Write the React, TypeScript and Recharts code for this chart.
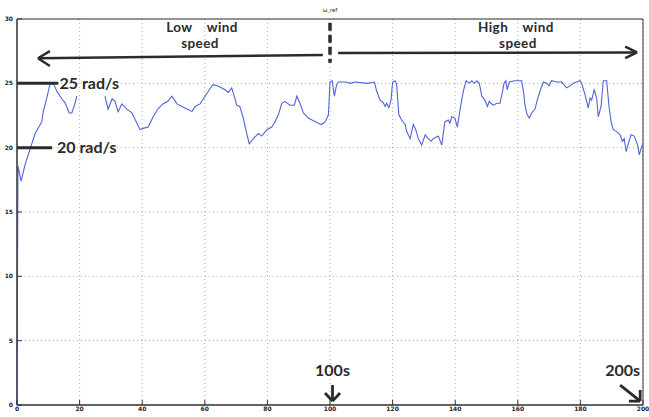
import React from "react";
import {
  LineChart,
  Line,
  XAxis,
  YAxis,
  CartesianGrid,
  ReferenceLine,
  ReferenceArea,
  ReferenceDot,
} from "recharts";

// time (s)
const times: number[] = [
  0, 0.3, 1.3, 2.6, 4.2, 5.8, 7.9, 8.4, 9.5, 10.5, 11.6, 12.7, 14.3, 15.3, 16.7, 17.5, 18.5, 19.1, 23,
  28.1, 29.1, 30.4, 31.3, 32.3, 33.5, 35.1, 36.7, 37.7, 39.3, 40.3, 41.9, 43.5, 45.0, 46.6, 48.2, 49.5,
  51.1, 52.7, 54.3, 55.9, 56.9, 58.5, 60.1, 61.7, 62.6, 64.2, 66.5, 67.5, 68.6, 69.4, 70.2, 71.2, 72.3,
  73.4, 74.2, 75.5, 77.1, 78.2, 79.8, 81.4, 82.4, 83.5, 84.6, 85.6, 87.2, 88.6, 89.4, 90.4, 91.5, 93.1,
  94.7, 96.3, 97.3, 98.4, 99.5, 100.0, 100.7, 101.4, 102.1, 102.7, 105, 106.5, 108, 112, 114.2, 114.9,
  116, 117, 117.6, 118.1, 118.8, 119.5, 120, 120.8, 121.3, 122, 122.9, 124, 124.5, 125.6, 126.6, 127.4,
  128.2, 129.3, 130.4, 131.4, 132.3, 133, 134.6, 135.7, 136.7, 137.8, 138.3, 138.9, 139.9, 140.7, 141.5,
  142.6, 143.5, 144.5, 145.3, 146.1, 146.9, 147.7, 148.5, 149.5, 150.3, 150.9, 151.4, 152.2, 153.3, 154.3,
  154.9, 155.6, 156.2, 156.6, 157.3, 159, 161.2, 161.8, 162.3, 163, 163.7, 164.4, 165.5, 166.2, 167.1,
  168.2, 169.2, 170, 170.8, 172.4, 174, 175.6, 176.7, 177.7, 178.8, 179.9, 180.4, 181.5, 182.5, 183.1,
  183.6, 184.4, 185.2, 185.7, 186.6, 187.3, 188.4, 189.1, 189.8, 190.5, 191.6, 192.7, 193.4, 194, 194.6,
  195.3, 196.2, 197.2, 198.3, 198.8, 199.6, 200,
];

// w_ref (rad/s)
const wRef: (number | null)[] = [
  0, 18.6, 17.4, 18.7, 19.9, 21.1, 22.0, 22.8, 23.85, 24.9, 25.0, 24.4, 23.8, 23.5, 22.7, 22.7, 23.4, 24.0, null,
  24.0, 23.0, 23.8, 23.6, 22.8, 23.4, 23.0, 22.7, 22.2, 21.4, 21.5, 21.6, 22.4, 23.0, 23.4, 23.6, 24.0,
  23.4, 23.2, 23.0, 22.8, 23.2, 23.4, 24.0, 24.6, 24.9, 24.8, 24.5, 24.3, 24.65, 24.0, 23.3, 23.2, 22.3,
  21.1, 20.3, 20.7, 21.1, 20.9, 21.4, 21.6, 22.0, 22.55, 23.45, 23.6, 23.3, 23.3, 24.0, 23.45, 22.7, 22.3,
  22.1, 21.9, 21.8, 22.0, 22.55, 25.1, 25.2, 24.0, 24.9, 25.1, 25.1, 25.0, 25.1, 25.0, 25.1, 24.4,
  23.7, 23.5, 23.2, 23.45, 23.1, 23.7, 25.1, 25.2, 24.9, 22.55, 22.15, 21.8, 21.25, 20.7, 21.8, 21.4,
  20.7, 20.2, 21.0, 20.7, 20.5, 20.7, 20.9, 20.2, 22.0, 22.15, 21.9, 22.4, 22.3, 21.6, 22.9,
  24.4, 25.2, 25.0, 25.2, 25.0, 25.2, 25.0, 24.0, 23.7, 23.2, 23.6, 23.45, 23.3, 23.45, 23.45,
  24.1, 25.0, 25.2, 24.5, 25.1, 25.2, 25.2, 24.4, 23.3, 22.55, 22.3, 22.7, 23.0, 23.7, 24.4,
  25.1, 25.0, 24.8, 25.2, 25.1, 25.1, 24.65, 24.8, 25.0, 25.1, 25.2, 25.0, 24.1, 23.1, 23.85,
  23.7, 24.5, 23.85, 22.4, 23.2, 25.2, 25.2, 23.3, 22.0, 21.4, 21.25, 21.0, 20.5, 20.7, 19.7,
  20.3, 21.0, 20.9, 20.2, 19.45, 20.1, 20.3,
];

const xTicks: number[] = [0, 20, 40, 60, 80, 100, 120, 140, 160, 180, 200];
const yTicks: number[] = [0, 5, 10, 15, 20, 25, 30];

const chartTitle = "ω_ref";
const lowLabel: string[] = ["Low    wind", "speed"];
const highLabel: string[] = ["High    wind", "speed"];
const levelLabels: string[] = ["25 rad/s", "20 rad/s"];
const timeLabels: string[] = ["100s", "200s"];

const data = times.map((t, i) => ({ t, w: wRef[i] }));

const ANN = "#2b2b2b";
const annFont = "Lato, 'Open Sans', sans-serif";

const makeText =
  (text: string, anchor: "start" | "middle" | "end", size: number, dy = 0, weight = 700) =>
  (props: any) =>
    (
      <text
        x={props.cx}
        y={props.cy}
        dy={dy}
        textAnchor={anchor}
        fontFamily={annFont}
        fontWeight={weight}
        fontSize={size}
        fill={ANN}
        style={{ whiteSpace: "pre" }}
      >
        {text}
      </text>
    );

const makeTwoLine =
  (lines: string[], size: number, lineGap: number, secondDx: number) =>
  (props: any) =>
    (
      <text
        textAnchor="middle"
        fontFamily={annFont}
        fontWeight={700}
        fontSize={size}
        fill={ANN}
        letterSpacing={0.4}
        style={{ whiteSpace: "pre" }}
      >
        <tspan x={props.cx} y={props.cy}>
          {lines[0]}
        </tspan>
        <tspan x={props.cx + secondDx} y={props.cy + lineGap}>
          {lines[1]}
        </tspan>
      </text>
    );

const seg = (x1: number, y1: number, x2: number, y2: number, key: string, w = 2.5, dash?: string) => (
  <ReferenceLine
    key={key}
    segment={[
      { x: x1, y: y1 },
      { x: x2, y: y2 },
    ]}
    stroke={ANN}
    strokeWidth={w}
    strokeDasharray={dash}
    ifOverflow="visible"
  />
);

export default function App() {
  return (
    <div style={{ position: "absolute", left: 0, top: 0, background: "#fff" }}>
      <LineChart
        width={649}
        height={417}
        data={data}
        margin={{ top: 19, right: 6, bottom: 0, left: 0 }}
      >
        <CartesianGrid stroke="#9a9a9a" strokeDasharray="1 3" strokeWidth={0.8} />
        <XAxis
          dataKey="t"
          type="number"
          domain={[0, 200]}
          ticks={xTicks}
          height={12}
          tickSize={-5}
          tickMargin={7}
          stroke="#333"
          tick={{ fontSize: 6, fontWeight: 700, fill: "#222", fontFamily: "DejaVu Sans" }}
        />
        <YAxis
          type="number"
          domain={[0, 30]}
          ticks={yTicks}
          width={17}
          tickSize={-5}
          tickMargin={9}
          stroke="#333"
          tick={{ fontSize: 6, fontWeight: 700, fill: "#222", fontFamily: "DejaVu Sans" }}
        />
        <ReferenceArea x1={0} x2={200} y1={0} y2={30} fill="none" stroke="#333" strokeWidth={1} />
        <Line
          type="linear"
          dataKey="w"
          stroke="#5064d6"
          strokeWidth={1.1}
          dot={false}
          isAnimationActive={false}
          connectNulls={false}
        />
        {/* title */}
        <ReferenceDot x={100} y={30} r={0} ifOverflow="visible" shape={makeText(chartTitle, "middle", 6, -7, 400)} />
        {/* region arrows */}
        {seg(6.7, 26.95, 97.7, 27.2, "la")}
        {seg(6.7, 26.95, 10.5, 27.5, "la1")}
        {seg(6.7, 26.95, 10.5, 26.35, "la2")}
        {seg(102.6, 27.35, 198.1, 27.4, "ra")}
        {seg(198.1, 27.4, 194.3, 27.85, "ra1")}
        {seg(198.1, 27.4, 194.3, 26.95, "ra2")}
        {seg(100, 29.7, 100, 26.6, "div", 3.5, "8 4")}
        <ReferenceDot x={59.1} y={29.02} r={0} ifOverflow="visible" shape={makeTwoLine(lowLabel, 13.5, 16.2, -2)} />
        <ReferenceDot x={159.4} y={29.02} r={0} ifOverflow="visible" shape={makeTwoLine(highLabel, 13.5, 16.2, 2)} />
        {/* level markers */}
        {seg(0, 25, 13.2, 25, "l25", 3)}
        {seg(0, 20, 11.2, 20, "l20", 3)}
        <ReferenceDot x={13.6} y={25} r={0} ifOverflow="visible" shape={makeText(levelLabels[0], "start", 16, 5.5)} />
        <ReferenceDot x={12.8} y={20} r={0} ifOverflow="visible" shape={makeText(levelLabels[1], "start", 16, 5.5)} />
        {/* time markers */}
        <ReferenceDot x={100.8} y={2.25} r={0} ifOverflow="visible" shape={makeText(timeLabels[0], "middle", 16)} />
        {seg(100.8, 1.55, 100.8, 0.3, "d1", 2.8)}
        {seg(100.8, 0.3, 98.4, 0.93, "d1a", 2.8)}
        {seg(100.8, 0.3, 103.2, 0.93, "d1b", 2.8)}
        <ReferenceDot x={193.5} y={2.25} r={0} ifOverflow="visible" shape={makeText(timeLabels[1], "middle", 16)} />
        {seg(192.7, 1.55, 199.1, 0.3, "d2", 2.8)}
        {seg(199.1, 0.3, 199.1, 1.17, "d2a", 2.8)}
        {seg(199.1, 0.3, 195.5, 0.3, "d2b", 2.8)}
      </LineChart>
    </div>
  );
}
